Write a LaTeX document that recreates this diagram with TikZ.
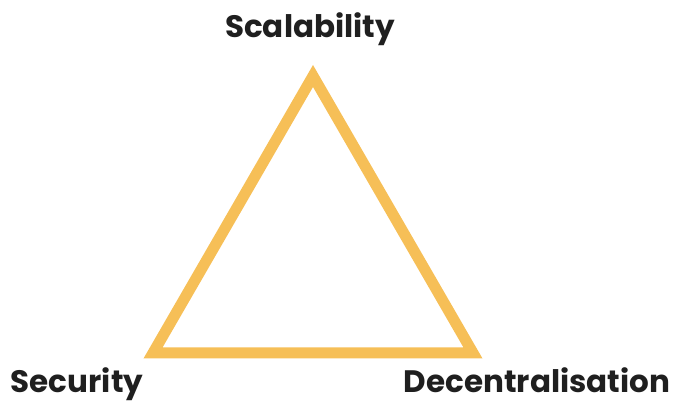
\documentclass[tikz,border=0pt]{standalone}
\usepackage{fontspec}
\setmainfont{Poppins}
\usetikzlibrary{positioning}
\definecolor{trigold}{HTML}{F6BF57}
\definecolor{tridark}{HTML}{1F1F1F}

\begin{document}
\begin{tikzpicture}[x=1pt, y=1pt,
  corner/.style={font=\bfseries\fontsize{31}{36}\selectfont, text=tridark, inner sep=0pt, anchor=base},
  edge/.style={draw=trigold, line width=11pt, line join=miter},
]
\useasboundingbox (0,0) rectangle (674,403);
\coordinate (top) at (313,327);
\coordinate (left) at (153,50);
\coordinate (right) at (473,50);
\draw[edge] (top) -- (left) -- (right) -- cycle;
\node[corner] (scal) at (310,365) {Scalability};
\node[corner] (secu) at (77,10.5) {Security};
\node[corner] (dece) at (537,10.5) {Decentralisation};
\end{tikzpicture}
\end{document}
